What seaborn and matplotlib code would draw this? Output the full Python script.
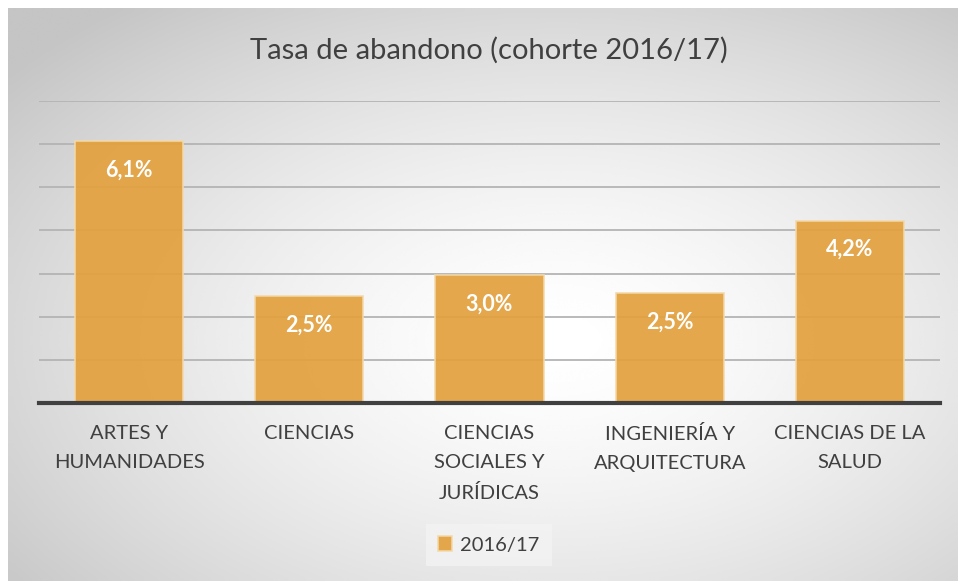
import numpy as np
import seaborn as sns
import matplotlib.pyplot as plt

# data
categorias = ["ARTES Y\nHUMANIDADES", "CIENCIAS", "CIENCIAS\nSOCIALES Y\nJURÍDICAS",
              "INGENIERÍA Y\nARQUITECTURA", "CIENCIAS DE LA\nSALUD"]
tasa = [6.07, 2.47, 2.96, 2.54, 4.23]
serie = "2016/17"
titulo = "Tasa de abandono (cohorte 2016/17)"

sns.set_style("white")
plt.rcParams['font.family'] = ['Lato', 'DejaVu Sans']

W, H = 958, 581
fig = plt.figure(figsize=(W / 100, H / 100), dpi=100)
fig.patch.set_facecolor("white")

# radial gradient background of the chart box
bg = fig.add_axes([8 / W, 0, 1 - 8 / W, 1 - 8 / H])
gx, gy = np.meshgrid(np.linspace(0, 1, 400), np.linspace(0, 1, 300))
r = np.sqrt(((gx - 0.58) / 0.75) ** 2 + ((gy - 0.58) / 0.75) ** 2)
shade = 1 - 0.23 * np.clip(r, 0, 1) ** 1.5
bg.imshow(shade, cmap="gray", vmin=0, vmax=1, aspect="auto", extent=[0, 1, 0, 1],
          interpolation="bicubic")
bg.set_axis_off()

ax = fig.add_axes([39 / W, (H - 403) / H, (940 - 39) / W, (403 - 101) / H])
ax.patch.set_alpha(0)

sns.barplot(x=categorias, y=tasa, color="#E3A13E", saturation=1, width=0.6, alpha=0.93,
            edgecolor="#F3D9A8", linewidth=1.2, label=serie, ax=ax, zorder=2)
handles, labels = ax.get_legend_handles_labels()
if ax.get_legend() is not None:
    ax.get_legend().remove()

ax.set_ylim(0, 7)
ax.set_yticks(range(0, 8))
ax.set_yticklabels([])
ax.tick_params(axis="y", length=0)
ax.yaxis.grid(True, color="#b4b4b4", linewidth=1.3)
ax.set_axisbelow(True)
for s in ["top", "right", "left"]:
    ax.spines[s].set_visible(False)
ax.spines["bottom"].set_color("#404040")
ax.spines["bottom"].set_linewidth(3)
ax.spines["bottom"].set_zorder(3)

ax.tick_params(axis="x", length=0, pad=16, labelsize=14.5, labelcolor="#404040")
for t in ax.get_xticklabels():
    t.set_linespacing(1.85)
ax.set_xlabel("")
ax.set_ylabel("")

for i, v in enumerate(tasa):
    ax.text(i, v - 0.42, f"{v:.1f}%".replace(".", ","), ha="center", va="top",
            color="white", fontsize=15.5, fontweight="bold", zorder=4)

fig.text(489 / W, 1 - 50 / H, titulo, ha="center", va="center",
         fontsize=21, color="#404040")

leg = fig.legend(handles, labels, loc="center",
                 bbox_to_anchor=(489 / W, 1 - 545 / H), frameon=True,
                 fontsize=14.5, handlelength=0.7, handleheight=0.7,
                 handletextpad=0.4, borderpad=0.6, fancybox=False)
leg.get_frame().set_facecolor("#f4f4f4")
leg.get_frame().set_edgecolor("none")
leg.get_frame().set_alpha(0.7)
for t in leg.get_texts():
    t.set_color("#404040")

fig.savefig("out.png", dpi=100)
